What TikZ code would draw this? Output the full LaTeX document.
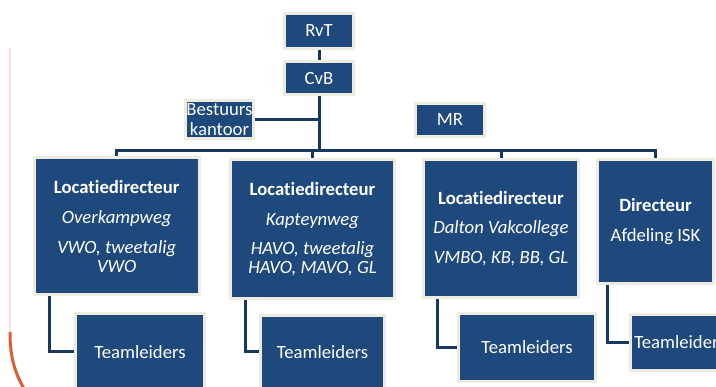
\documentclass[tikz,border=0pt]{standalone}
\usepackage{fontspec}
\setmainfont{Carlito}[Ligatures=NoCommon]
\definecolor{boxblue}{RGB}{31,73,125}
\definecolor{boxrim}{RGB}{238,236,225}
\definecolor{linenavy}{RGB}{23,55,94}
\definecolor{edgepink}{RGB}{250,222,215}
\definecolor{edgeorange}{RGB}{222,92,52}
\tikzset{
    orgbox/.style={fill=boxblue, draw=boxrim, line width=3pt, text=white, inner sep=0pt,
        align=center, font=\fontsize{18.7}{18.7}\selectfont},
    orgline/.style={draw=linenavy, line width=3pt},
}
\begin{document}
\begin{tikzpicture}[x=1pt, y=-1pt]

        \path[use as bounding box, clip] (0, 0) rectangle (716, 387);

        \draw [edgepink, line width=1.5pt] (10, 48) -- (10, 332);
        \draw [edgeorange, line width=3pt] (10, 332) .. controls (10, 358) and (15, 374) .. (26, 392);

        \node (rvt) at (319, 31) [orgbox, minimum width=69pt, minimum height=35pt] {RvT};
        \node (cvb) at (319, 78) [orgbox, minimum width=69pt, minimum height=33pt] {CvB};
        \node (bk) at (219.5, 119.5) [orgbox, minimum width=68pt, minimum height=38pt] {Bestuurs\\[1pt]kantoor};
        \node (mr) at (450, 120) [orgbox, minimum width=69pt, minimum height=33pt] {MR};

        \node (loc1) at (116.75, 226.5) [orgbox, minimum width=164.5pt, minimum height=137pt]
            {\textbf{Locatiedirecteur}\\[11pt]\textit{Overkampweg}\\[11pt]\textit{VWO, tweetalig}\\\textit{VWO}};
        \node (loc2) at (312.5, 229) [orgbox, minimum width=164pt, minimum height=139pt]
            {\textbf{Locatiedirecteur}\\[11pt]\textit{Kapteynweg}\\[11pt]\textit{HAVO, tweetalig}\\\textit{HAVO, MAVO, GL}};
        \node (loc3) at (501, 228.5) [orgbox, minimum width=155pt, minimum height=138pt]
            {\textbf{Locatiedirecteur}\\[11pt]\textit{Dalton Vakcollege}\\[11pt]\textit{VMBO, KB, BB, GL}};
        \node (dir4) at (655.5, 221.5) [orgbox, minimum width=116pt, minimum height=124pt]
            {\textbf{Directeur}\\[11pt]Afdeling ISK};

        \node (tl1) at (140, 352) [orgbox, minimum width=129pt, minimum height=77pt] {Teamleiders};
        \node (tl2) at (322.5, 352) [orgbox, minimum width=124pt, minimum height=73pt] {Teamleiders};
        \node (tl3) at (527, 347.5) [orgbox, minimum width=137pt, minimum height=68pt] {Teamleiders};
        \node (tl4) at (680, 342.5) [orgbox, minimum width=99pt, minimum height=56pt] {Teamleiders};

        \coordinate (bus) at (319, 151);

        \draw [orgline] (rvt) -- (cvb);
        \draw [orgline] (cvb) -- (bus);
        \draw [orgline] (bk) -- (bk -| cvb);
        \draw [orgline] (loc1) |- (bus) -| (dir4);
        \draw [orgline] (bus) -| (loc2);
        \draw [orgline] (bus) -| (loc3);

        \draw [orgline] ([xshift=16.5pt]loc1.south west) |- (tl1);
        \draw [orgline] ([xshift=16.5pt]loc2.south west) |- (tl2);
        \draw [orgline] ([xshift=15.5pt]loc3.south west) |- (tl3);
        \draw [orgline] ([xshift=11.5pt]dir4.south west) |- (tl4);

    \end{tikzpicture}
\end{document}
